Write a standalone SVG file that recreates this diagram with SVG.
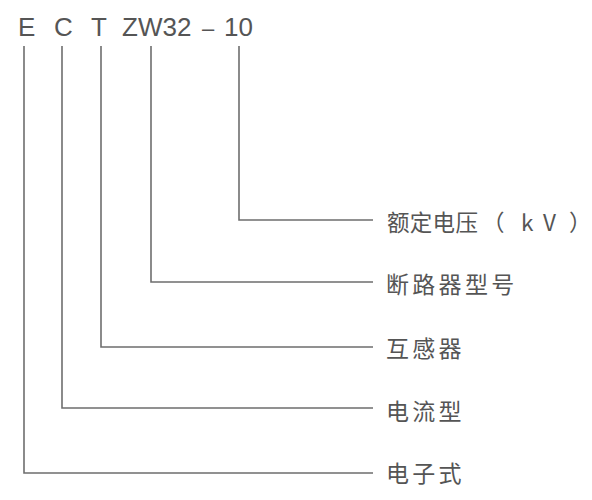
<svg xmlns="http://www.w3.org/2000/svg" width="592" height="500" viewBox="0 0 592 500">
<style>
.code{font-family:"Liberation Sans",Arial,sans-serif;font-size:26px;fill:#555555}
.lbl{font-family:"Noto Sans CJK SC","Noto Sans",sans-serif;font-size:23px;fill:#555555;letter-spacing:3.3px}
.ln{fill:none;stroke:#6e6e6e;stroke-width:1.6}
</style>
<rect width="592" height="500" fill="#ffffff"/>
<g id="code">
<text class="code" x="18" y="36">E</text>
<text class="code" x="54" y="36">C</text>
<text class="code" x="91" y="36">T</text>
<text class="code" x="122" y="36">ZW32</text>
<text class="code" x="202" y="36" style="font-size:22px">–</text>
<text class="code" x="224" y="36">10</text>
</g>
<g id="connectors">
<polyline class="ln" points="239,46 239,220 373,220"/>
<polyline class="ln" points="151,46 151,282 373,282"/>
<polyline class="ln" points="101,46 101,347 373,347"/>
<polyline class="ln" points="62,46 62,408 373,408"/>
<polyline class="ln" points="24,46 24,473 373,473"/>
</g>
<g id="n-voltage"><text class="lbl" x="387" y="231" style="font-size:22.5px;letter-spacing:0.3px">额定电压<tspan x="482">（</tspan><tspan x="521">k</tspan><tspan x="543">V</tspan><tspan x="569">）</tspan></text></g>
<g id="n-breaker"><text class="lbl" x="386" y="293">断路器型号</text></g>
<g id="n-transformer"><text class="lbl" x="386" y="357">互感器</text></g>
<g id="n-current"><text class="lbl" x="386" y="420">电流型</text></g>
<g id="n-electronic"><text class="lbl" x="386" y="482">电子式</text></g>
</svg>
